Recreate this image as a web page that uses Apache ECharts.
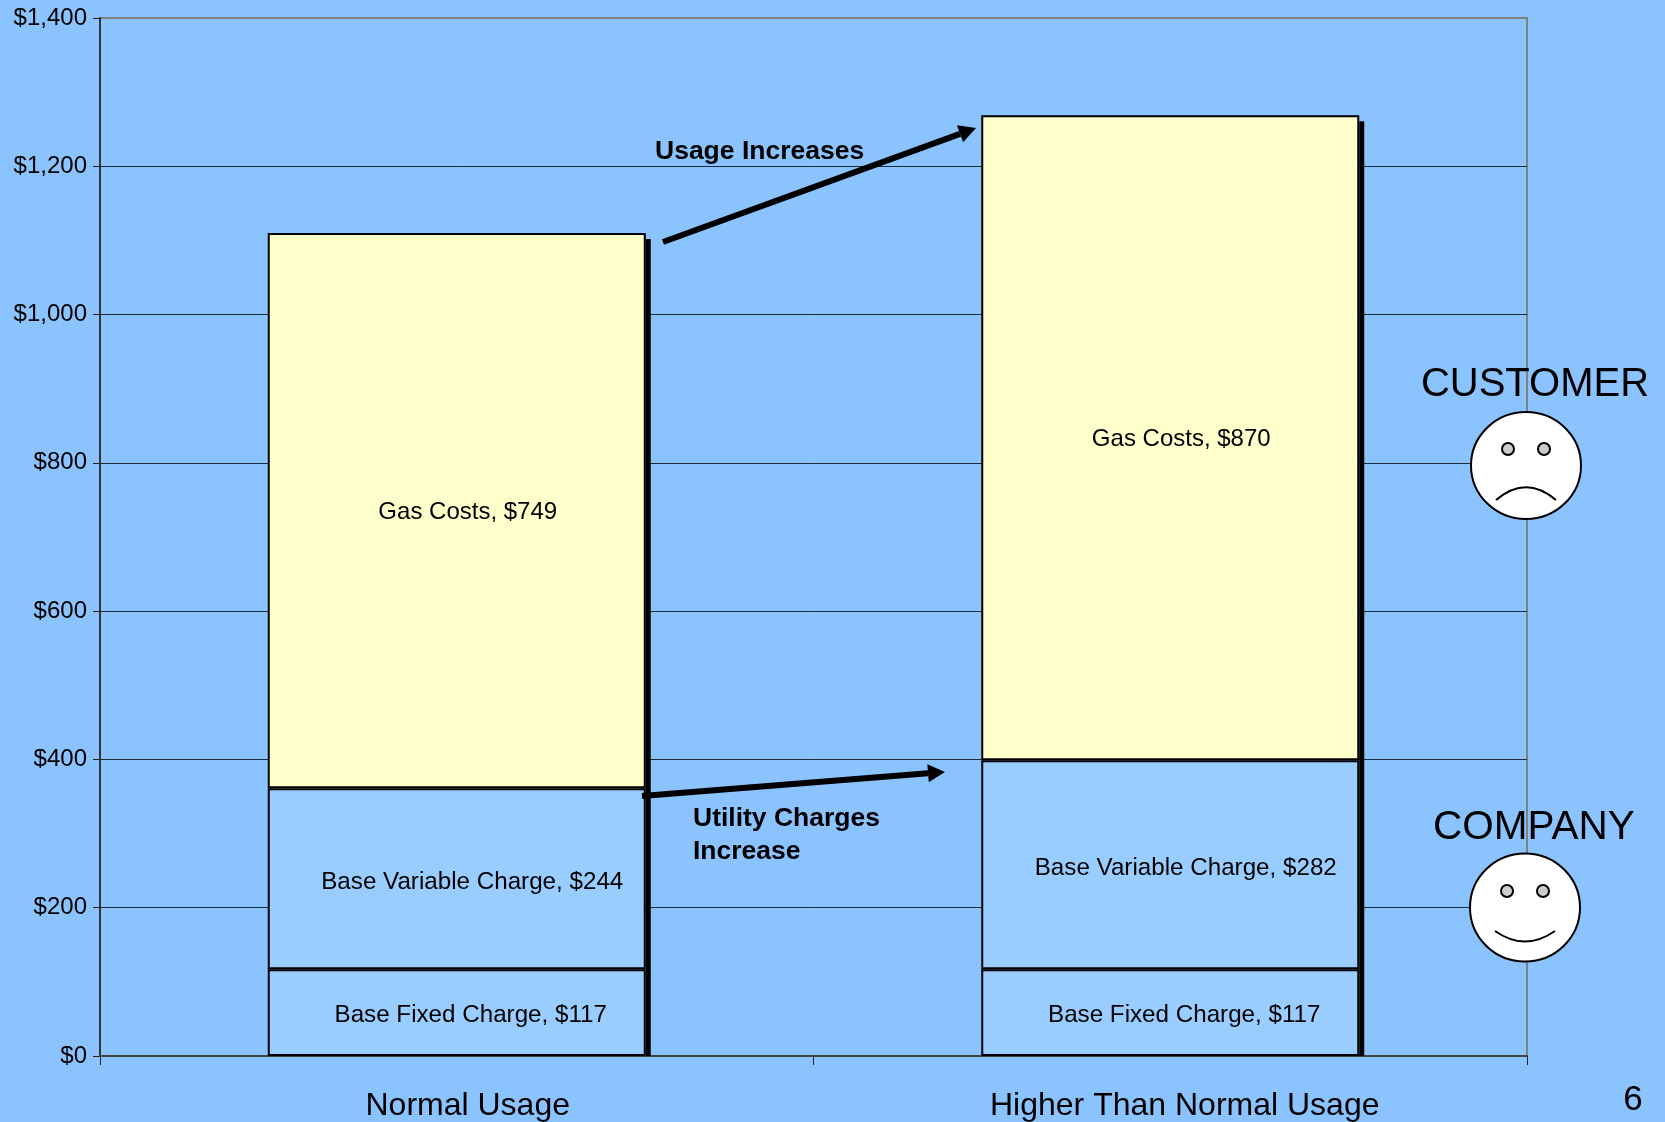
<!DOCTYPE html>
<html>
<head>
<meta charset="utf-8">
<style>
	html, body { margin: 0; padding: 0; background: #8bc3ff; }
	#costChart { width: 1665px; height: 1122px; }
</style>
<script src="https://cdn.jsdelivr.net/npm/echarts@6/dist/echarts.min.js"></script>
</head>
<body>
<div id="costChart"></div>
<script>
var categories = ['Normal Usage', 'Higher Than Normal Usage'];
var fixedCharge = [117, 117];
var variableCharge = [244, 282];
var gasCosts = [749, 870];
var totals = [1110, 1269];
var yTicks = [0, 200, 400, 600, 800, 1000, 1200, 1400];

var font = '"Liberation Sans", Arial, sans-serif';
var barWidth = 378;
var shadowSize = 5;

//柱子右侧的黑色阴影
var renderShadow = function(params, api) {
	var top = api.coord([api.value(0), api.value(1)]);
	var base = api.coord([api.value(0), 0]);
	return {
		type: 'rect',
		shape: {
			x: top[0] + barWidth / 2,
			y: top[1] + 6,
			width: shadowSize,
			height: base[1] - top[1] - 6
		},
		style: { fill: '#000' }
	};
};

var barSeries = function(name, values, color, labelOffset, labelSize) {
	return {
		name: name,
		type: 'bar',
		stack: 'cost',
		barWidth: barWidth,
		data: values,
		z: 3,
		itemStyle: {
			color: color,
			borderColor: '#000',
			borderWidth: 2
		},
		label: {
			show: true,
			position: 'inside',
			offset: labelOffset,
			color: '#000',
			fontFamily: font,
			fontSize: labelSize,
			formatter: '{a}, ${c}'
		}
	};
};

var arrow = function(x1, y1, x2, y2) {
	var angle = Math.atan2(y2 - y1, x2 - x1);
	var len = 17, half = 9;
	var bx = x2 - len * Math.cos(angle), by = y2 - len * Math.sin(angle);
	var nx = -Math.sin(angle) * half, ny = Math.cos(angle) * half;
	return [{
		type: 'line',
		shape: { x1: x1, y1: y1, x2: bx, y2: by },
		style: { stroke: '#000', lineWidth: 6 },
		z: 10
	}, {
		type: 'polygon',
		shape: { points: [[x2, y2], [bx + nx, by + ny], [bx - nx, by - ny]] },
		style: { fill: '#000' },
		z: 10
	}];
};

var note = function(text, x, y, size, weight, align) {
	return {
		type: 'text',
		x: x,
		y: y,
		z: 11,
		style: {
			text: text,
			fill: '#000',
			font: (weight || 'normal') + ' ' + size + 'px ' + font,
			align: align || 'center',
			verticalAlign: 'middle'
		}
	};
};

//笑脸
var face = function(cx, cy, rx, ry, eyeY, mouthY, ctrlY) {
	var eyeStyle = { fill: '#ccc', stroke: '#000', lineWidth: 2 };
	return [{
		type: 'ellipse',
		shape: { cx: cx, cy: cy, rx: rx, ry: ry },
		style: { fill: '#fff', stroke: '#000', lineWidth: 2 },
		z: 12
	}, {
		type: 'circle',
		shape: { cx: cx - 18, cy: eyeY, r: 6 },
		style: eyeStyle,
		z: 13
	}, {
		type: 'circle',
		shape: { cx: cx + 18, cy: eyeY, r: 6 },
		style: eyeStyle,
		z: 13
	}, {
		type: 'bezierCurve',
		shape: {
			x1: cx - 30, y1: mouthY,
			cpx1: cx - 10, cpy1: ctrlY,
			cpx2: cx + 10, cpy2: ctrlY,
			x2: cx + 30, y2: mouthY
		},
		style: { stroke: '#000', lineWidth: 2, fill: 'none' },
		z: 13
	}];
};

var graphics = []
	.concat(arrow(663, 242, 976, 128))
	.concat(arrow(642, 796, 945, 772))
	.concat(face(1526, 465.5, 55, 53.5, 449, 500, 483))
	.concat(face(1525, 907.5, 55, 54, 891, 931, 945))
	.concat([
		note('Usage Increases', 655, 152, 26.5, 'bold', 'left'),
		note('Utility Charges', 693, 818.5, 26.5, 'bold', 'left'),
		note('Increase', 693, 851.5, 26.5, 'bold', 'left'),
		note('CUSTOMER', 1535, 385, 40),
		note('COMPANY', 1534, 827.5, 40.5),
		note('6', 1633, 1100, 35)
	]);

var myChart = echarts.init(document.getElementById('costChart'));
var option = {
	animation: false,
	backgroundColor: '#8bc3ff',
	grid: {
		show: true,
		left: 100,
		right: 138,
		top: 18,
		bottom: 65,
		borderColor: '#808080',
		borderWidth: 2,
		backgroundColor: 'transparent'
	},
	xAxis: [{
		type: 'category',
		data: [
			{ value: categories[0], textStyle: { padding: [0, 0, 0, 22] } },
			{ value: categories[1], textStyle: { padding: [0, 0, 0, 29] } }
		],
		axisLine: {
			show: true,
			lineStyle: { color: '#444', width: 2 }
		},
		axisTick: {
			show: true,
			length: 9,
			lineStyle: { color: '#222', width: 1 }
		},
		axisLabel: {
			color: '#000',
			fontFamily: font,
			fontSize: 32,
			margin: 34
		},
		splitLine: { show: false }
	}],
	yAxis: [{
		type: 'value',
		min: yTicks[0],
		max: yTicks[yTicks.length - 1],
		interval: yTicks[1] - yTicks[0],
		axisLine: {
			show: true,
			lineStyle: { color: '#333', width: 2 }
		},
		axisTick: {
			show: true,
			length: 7,
			lineStyle: { color: '#222', width: 1 }
		},
		axisLabel: {
			color: '#000',
			fontFamily: font,
			fontSize: 24,
			margin: 13,
			padding: [4, 0, 0, 0],
			formatter: function(value) {
				return '$' + value.toLocaleString('en-US');
			}
		},
		splitLine: {
			show: true,
			showMinLine: false,
			showMaxLine: false,
			lineStyle: { color: '#1a2a3a', width: 1 }
		}
	}],
	series: [
		{
			type: 'custom',
			renderItem: renderShadow,
			data: categories.map(function(name, i) { return [i, totals[i]]; }),
			encode: { x: 0, y: 1 },
			z: 2,
			silent: true
		},
		barSeries('Base Fixed Charge', fixedCharge, '#99ccff', [14, 3], 24.2),
		barSeries('Base Variable Charge', variableCharge, '#99ccff', [15.5, 3.4], 24.2),
		barSeries('Gas Costs', gasCosts, '#ffffcc', [11, 1.6], 24)
	],
	graphic: graphics
};
myChart.setOption(option);
</script>
</body>
</html>
